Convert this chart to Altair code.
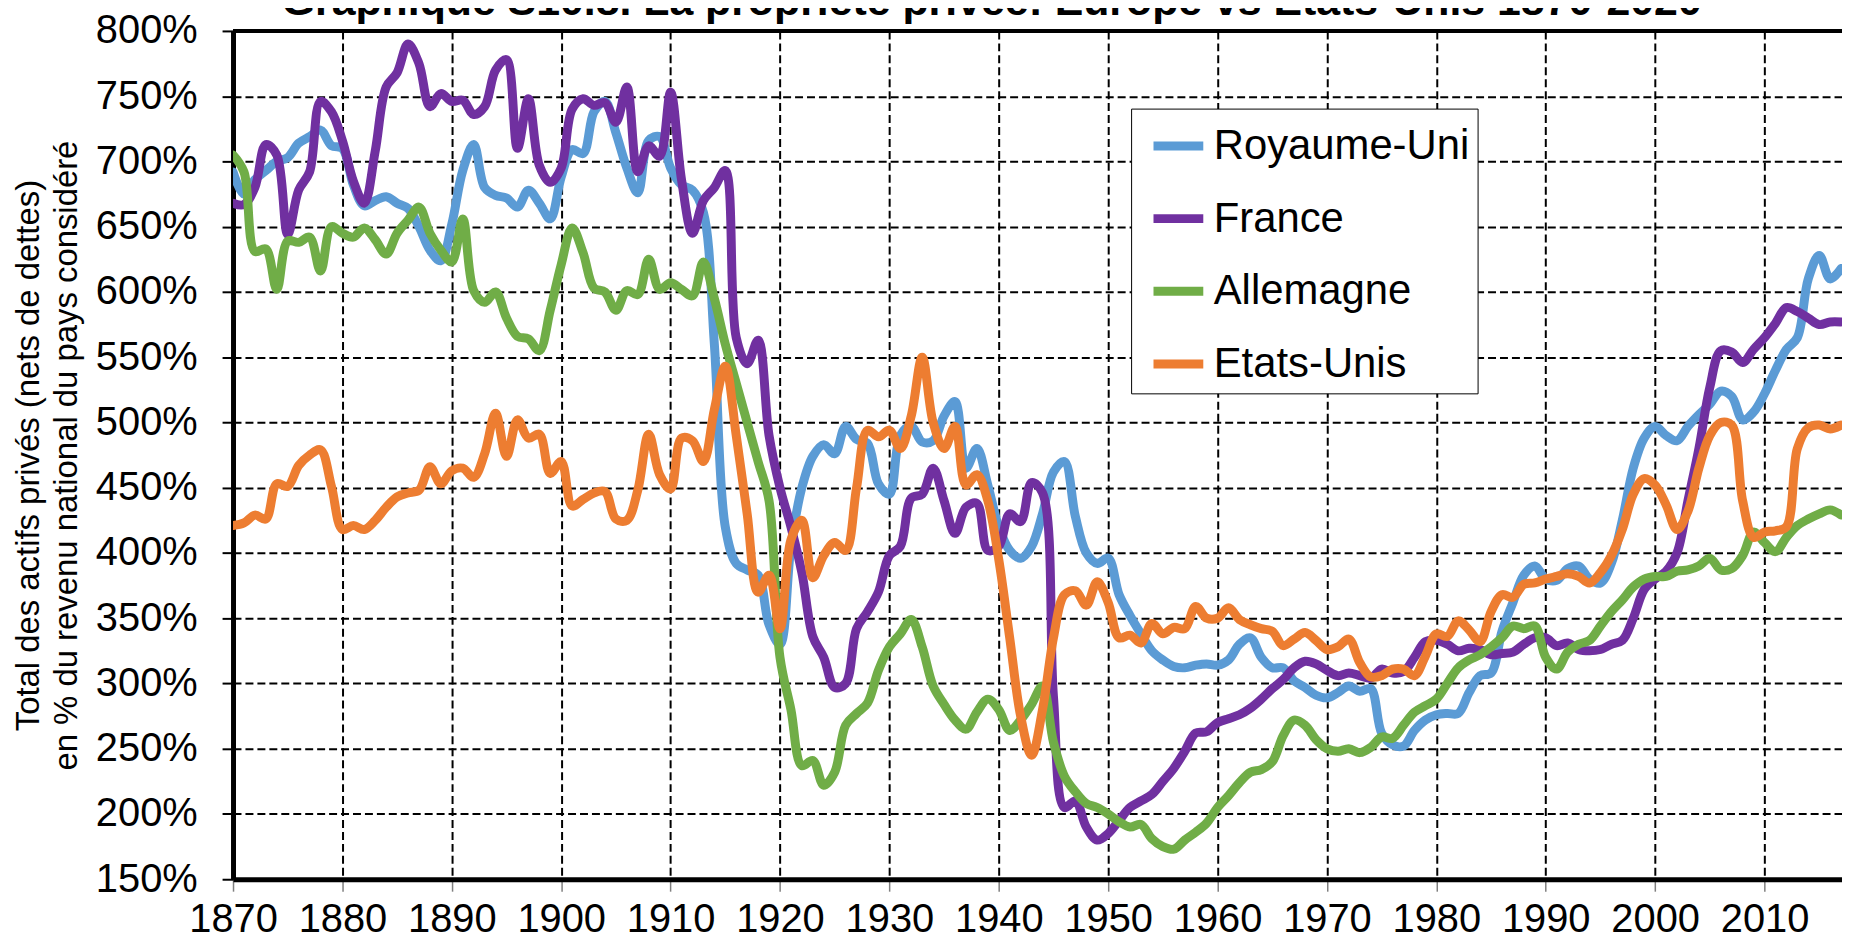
import altair as alt
import pandas as pd

# ---------------- data ----------------
years = list(range(1870, 2018))

royaume_uni = [
    692, 675, 686, 693, 700, 703, 714, 719, 724, 712,
    710, 682, 666, 670, 673, 668, 664, 650, 632, 624,
    652, 693, 713, 680, 674, 672, 665, 678, 668, 656,
    688, 709, 706, 738, 746, 722, 695, 676, 716, 719,
    695, 682, 678, 661, 560, 420, 392, 387, 383, 345,
    330, 405, 450, 474, 483, 476, 497, 487, 484, 453,
    445, 490, 497, 485, 486, 505, 516, 465, 480, 452,
    420, 402, 396, 405, 430, 462, 470, 428, 400, 392,
    396, 368, 352, 338, 325, 318, 313, 312, 314, 315,
    314, 318, 330, 335, 320, 312, 312, 302, 297, 291,
    289, 293, 298, 294, 296, 262, 253, 252, 264, 272,
    276, 277, 277, 293, 306, 308, 340, 362, 383, 390,
    380, 379, 388, 390, 380, 377, 392, 425, 465, 488,
    497, 490, 486, 497, 506, 514, 524, 520, 502, 508,
    522, 540, 556, 565, 610, 628, 610, 618,
]

france = [
    668, 667, 680, 713, 705, 644, 678, 692, 746, 738,
    716, 685, 668, 708, 757, 768, 790, 775, 742, 752,
    746, 747, 736, 742, 770, 778, 710, 748, 697, 684,
    695, 740, 748, 743, 745, 730, 757, 692, 712, 704,
    753, 686, 645, 670, 680, 693, 565, 545, 563, 490,
    450, 420, 385, 336, 320, 297, 300, 342, 355, 370,
    398, 405, 442, 445, 465, 440, 415, 435, 438, 402,
    405, 430, 424, 454, 446, 290, 205, 210, 190, 180,
    185, 195, 205, 210, 215, 225, 235, 248, 262, 263,
    270, 273, 276, 281, 288, 296, 303, 312, 317, 315,
    310, 306, 308, 306, 304, 311, 308, 309, 320, 332,
    333, 330, 325, 327, 326, 322, 323, 324, 330, 335,
    335, 329, 331, 326, 325, 326, 330, 333, 350, 372,
    380, 386, 400, 440, 480, 527, 555, 554, 546, 556,
    565, 576, 588, 585, 580, 575, 577, 577,
]

allemagne = [
    705, 692, 631, 633, 602, 639, 638, 642, 616, 650,
    645, 642, 649, 640, 629, 645, 655, 665, 645, 632,
    623, 656, 601, 592, 600, 580, 566, 564, 555, 586,
    621, 649, 630, 603, 600, 586, 601, 598, 625, 602,
    607, 602, 597, 623, 595, 560, 530, 500, 470, 440,
    320, 280, 237, 241, 222, 232, 268, 277, 285, 310,
    328, 338, 349, 328, 298, 284, 272, 265, 278, 288,
    280, 264, 272, 284, 298, 255, 229, 217, 208, 205,
    200, 194, 190, 192, 181, 175, 173, 180, 186, 193,
    205, 214, 224, 232, 234, 240, 260, 272, 268, 257,
    250, 248, 250, 247, 251, 259, 258, 268, 278, 283,
    288, 300, 312, 318, 322, 328, 335, 344, 342, 344,
    320, 311, 324, 330, 333, 344, 355, 364, 374, 380,
    382, 382, 386, 387, 390, 396, 387, 388, 398, 416,
    408, 401, 412, 421, 426, 430, 433, 429,
]

etats_unis = [
    421, 423, 429, 426, 453, 451, 467, 475, 479, 451,
    418, 421, 418, 425, 435, 443, 446, 448, 466, 453,
    463, 465, 458, 476, 507, 474, 502, 488, 491, 461,
    470, 436, 441, 446, 447, 426, 425, 448, 491, 460,
    449, 488, 486, 470, 510, 543, 490, 430, 370, 383,
    342, 410, 425, 381, 398, 408, 402, 450, 494, 489,
    494, 480, 505, 550, 500, 480, 497, 452, 460, 440,
    395, 335, 275, 245, 280, 335, 368, 371, 360, 378,
    362, 335, 337, 331, 346, 338, 343, 342, 359, 350,
    350, 358, 349, 345, 342, 340, 329, 334, 339, 333,
    326, 328, 334, 316, 305, 306, 311, 311, 306, 321,
    338, 336, 348, 341, 332, 355, 368, 366, 376, 377,
    380, 382, 384, 382, 377, 385, 398, 418, 445, 457,
    452, 437, 418, 432, 465, 490, 500, 498, 440, 412,
    416, 417, 420, 480, 496, 498, 495, 498,
]

pays = ["Royaume-Uni", "France", "Allemagne", "Etats-Unis"]
couleurs = ["#5B9BD5", "#7030A0", "#70AD47", "#ED7D31"]
series = [royaume_uni, france, allemagne, etats_unis]

x_ticks = list(range(1870, 2011, 10))
y_ticks = list(range(150, 801, 50))
y_top = [800]
titre = ["Graphique S10.8. La propriété privée: Europe vs Etats-Unis 1870-2020"]
titre_axe_y = ["Total des actifs privés (nets de dettes)",
               "en % du revenu national du pays considéré"]

for s in series:
    assert len(s) == len(years), len(s)

rows = []
for name, vals in zip(pays, series):
    for yr, v in zip(years, vals):
        rows.append({"annee": yr, "valeur": v, "pays": name})
df = pd.DataFrame(rows)

PX_PER_YEAR = 10.987
W, H = 1616, 852
FONT = "Liberation Sans"

x_scale = alt.Scale(domain=[1870, 1870 + W / PX_PER_YEAR], nice=False, zero=False)
y_scale = alt.Scale(domain=[150, 800], nice=False, zero=False)

x_axis = alt.Axis(
    values=x_ticks, format="d", title=None,
    labelFontSize=40, labelColor="black", labelFont=FONT, labelPadding=8,
    labelFlush=False, labelOverlap=False,
    tickSize=12, tickColor="#7f7f7f", tickWidth=1.5,
    domainColor="black", domainWidth=5,
    grid=True, gridColor="black", gridDash=[8, 4], gridWidth=2,
)
y_axis = alt.Axis(
    values=y_ticks, labelExpr="datum.value + '%'",
    labelFontSize=40, labelColor="black", labelFont=FONT, labelPadding=25,
    tickSize=11, tickColor="black", tickWidth=2,
    domainColor="black", domainWidth=5,
    grid=True, gridColor="black", gridDash=[8, 4], gridWidth=2,
    title=titre_axe_y, titleFont=FONT, titleFontSize=33, titleFontWeight="normal",
    titleColor="black", titleLineHeight=38, titleAngle=270, titleBaseline="bottom",
    titleAlign="center", titleX=-188, titleY=H / 2,
)

lines = alt.Chart(df).mark_line(
    strokeWidth=9, interpolate="catmull-rom", clip=True,
    strokeCap="round", strokeJoin="round",
).encode(
    x=alt.X("annee:Q", scale=x_scale, axis=x_axis),
    y=alt.Y("valeur:Q", scale=y_scale, axis=y_axis),
    color=alt.Color(
        "pays:N",
        scale=alt.Scale(domain=pays, range=couleurs),
        sort=pays,
        legend=alt.Legend(
            title=None, orient="none", legendX=902, legendY=78,
            strokeColor="black", fillColor="white", padding=8,
            symbolType="stroke", symbolStrokeWidth=9, symbolSize=2500,
            symbolOffset=10, labelOffset=6, rowPadding=22,
            labelFontSize=42, labelFont=FONT, labelColor="black",
            labelLimit=500, labelExpr="datum.label + '\u00a0'",
        ),
    ),
)

top_border = alt.Chart(pd.DataFrame({"v": y_top})).mark_rule(
    color="black", strokeWidth=4,
).encode(y=alt.Y("v:Q", scale=y_scale))

title_df = pd.DataFrame({"t": titre})
title_mark = alt.Chart(title_df).mark_text(
    font=FONT, fontSize=43, fontWeight="bold", color="black",
    align="center", baseline="alphabetic",
).encode(text="t:N", x=alt.value(762), y=alt.value(-16))

chart = alt.layer(lines, top_border, title_mark).properties(
    width=W, height=H,
    autosize=alt.AutoSizeParams(type="none"),
    padding={"left": 226, "top": 21, "right": 0, "bottom": 60},
).configure_view(
    stroke=None,
).configure_legend(
    strokeWidth=2,
).configure(background="white")

chart.save("out.html", embed_options={"renderer": "svg", "actions": False})
